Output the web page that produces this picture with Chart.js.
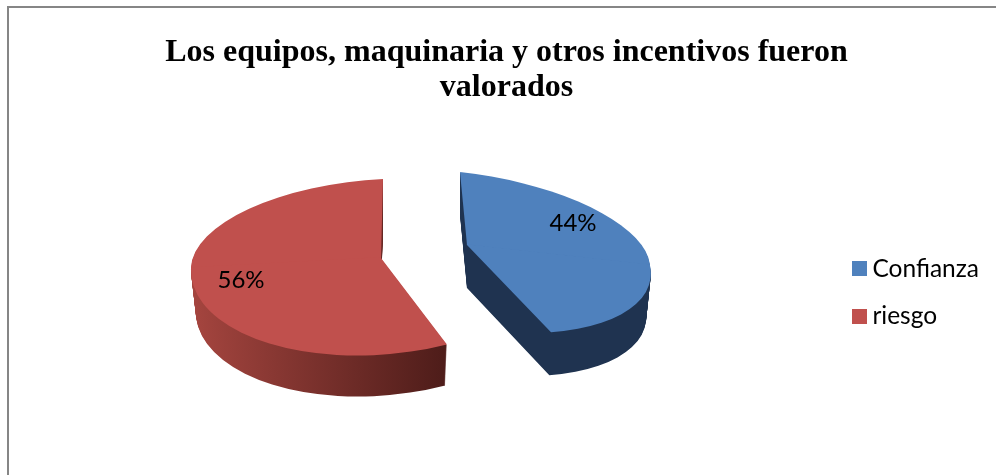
<!DOCTYPE html>
<html><head><meta charset="utf-8">
<style>html,body{margin:0;padding:0;background:#fff}canvas{display:block}</style>
<script src="https://cdn.jsdelivr.net/npm/chart.js@4"></script></head>
<body><canvas id="c" width="996" height="475"></canvas>
<script>
const categories = ['Confianza', 'riesgo'];
const seriesValues = [44, 56];
const seriesColors = ['#4f81bd', '#c0504d'];
const titleLines = ['Los equipos, maquinaria y otros incentivos fueron', 'valorados'];

// Tilted-view geometry of each exploded slice (centre, axes, shear, wall depth, label offset)
const views = [
  {cx:467, cy:245, rx:183, top:73, bottom:86, shear:0.11, skewTop:7, skewBottom:17.9, depth:43, wall:['#1f3350','#1f3350'], from:467, to:650, lx:106, ly:-22},
  {cx:381, cy:258, rx:190, top:79, bottom:97, shear:-0.053, skewTop:-2, skewBottom:-4.3, depth:41, wall:['#a5453f','#4f1d1a'], from:191, to:447, lx:-140, ly:22}
];
const legendShift = {x: 3, y: 55};
const wallTaper = 0.025;

function drawSlice(ctx, arc, v, dy, fill) {
  const R = arc.outerRadius;
  const a = v.rx / R * (1 - wallTaper * dy / v.depth);
  [[v.top, v.skewTop, -2*R, 2*R], [v.bottom, v.skewBottom, -1.5, 2*R]].forEach(([ry, skew, y0, h]) => {
    ctx.save();
    ctx.transform(a, v.shear * v.rx / R, skew / R, ry / R, v.cx, v.cy + dy);
    ctx.beginPath();
    ctx.rect(-2*R, y0, 4*R, h);
    ctx.clip();
    ctx.translate(-arc.x, -arc.y);
    const saved = arc.options;
    arc.options = Object.assign({}, saved, {backgroundColor: fill, borderColor: fill});
    arc.draw(ctx);
    arc.options = saved;
    ctx.restore();
  });
}

function swatch(color) {
  const s = document.createElement('canvas');
  s.width = 15; s.height = 15;
  const c = s.getContext('2d');
  c.fillStyle = color;
  c.fillRect(0, 0, 15, 15);
  return s;
}

const pie3d = {
  id: 'pie3d',
  afterLayout(chart) {
    const l = chart.legend;
    l.left += legendShift.x; l.right += legendShift.x;
    l.top += legendShift.y; l.bottom += legendShift.y;
  },
  beforeDraw(chart) {
    const {ctx, width, height} = chart;
    ctx.save();
    ctx.strokeStyle = '#868686';
    ctx.lineWidth = 2;
    ctx.beginPath();
    ctx.moveTo(8, height);
    ctx.lineTo(8, 7);
    ctx.lineTo(width, 7);
    ctx.stroke();
    ctx.restore();
  },
  beforeDatasetsDraw(chart) {
    const ctx = chart.ctx;
    const arcs = chart.getDatasetMeta(0).data;
    [1, 0].forEach(i => {
      const v = views[i];
      const R = arcs[i].outerRadius;
      const k = R / v.rx;
      const g = ctx.createLinearGradient((v.from - v.cx) * k + arcs[i].x, 0, (v.to - v.cx) * k + arcs[i].x, 0);
      g.addColorStop(0, v.wall[0]);
      g.addColorStop(1, v.wall[1]);
      for (let d = v.depth; d >= 1; d--) drawSlice(ctx, arcs[i], v, d, g);
      drawSlice(ctx, arcs[i], v, 0, seriesColors[i]);
    });
    const total = seriesValues.reduce((a, b) => a + b, 0);
    ctx.save();
    ctx.font = '24px Lato';
    ctx.fillStyle = '#000';
    ctx.textAlign = 'center';
    ctx.textBaseline = 'middle';
    seriesValues.forEach((val, i) => {
      const v = views[i];
      ctx.fillText(Math.round(val / total * 100) + '%', v.cx + v.lx, v.cy + v.ly);
    });
    ctx.restore();
    return false;
  }
};

new Chart(document.getElementById('c'), {
  type: 'pie',
  data: {
    labels: categories,
    datasets: [{data: seriesValues, backgroundColor: seriesColors, borderWidth: 0, borderColor: seriesColors}]
  },
  options: {
    responsive: false,
    animation: false,
    rotation: 0,
    layout: {padding: {left: 27, right: 10, top: 0, bottom: 0}},
    plugins: {
      tooltip: {enabled: false},
      title: {
        display: true,
        text: titleLines,
        color: '#000',
        font: {family: '"Liberation Serif"', size: 32, weight: 'bold', lineHeight: 1.09},
        padding: {top: 35, bottom: 10}
      },
      legend: {
        position: 'right',
        labels: {
          color: '#000',
          font: {family: 'Lato', size: 24.5},
          usePointStyle: true,
          pointStyleWidth: 2,
          boxHeight: 15,
          padding: 23,
          generateLabels(chart) {
            return categories.map((name, i) => ({
              text: name, index: i, hidden: false, lineWidth: 0,
              fillStyle: seriesColors[i], strokeStyle: seriesColors[i],
              pointStyle: swatch(seriesColors[i])
            }));
          }
        }
      }
    }
  },
  plugins: [pie3d]
});
</script></body></html>
